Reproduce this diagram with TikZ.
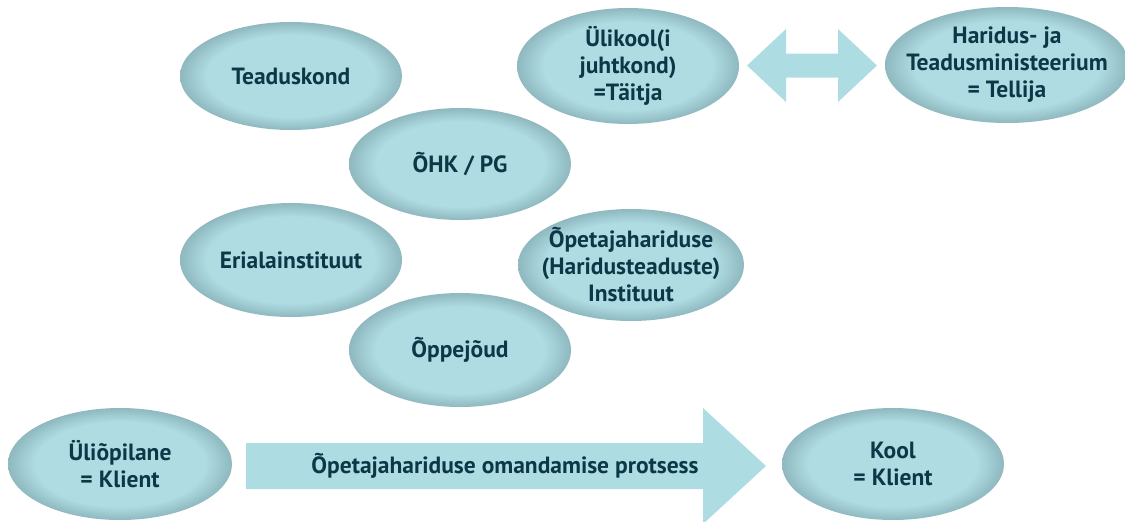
\documentclass[tikz,border=0pt]{standalone}
\usepackage{fontspec}
\setmainfont{PT Sans}
\usetikzlibrary{shapes.geometric}
\definecolor{elllight}{HTML}{AEDCE2}
\definecolor{elldark}{HTML}{8FB8BF}
\definecolor{arrowfill}{HTML}{ADDDE3}
\definecolor{txt}{HTML}{0D3747}
\pgfdeclareradialshading{bevel}{\pgfpoint{0bp}{0bp}}{color(0bp)=(elllight); color(19bp)=(elllight); color(25bp)=(elldark); color(50bp)=(elldark)}
\tikzset{
  lbl/.style={font=\fontsize{23.5}{27}\selectfont\bfseries, text=txt, inner sep=0pt, align=center},
  blob/.style={ellipse, inner sep=0pt, shading=bevel, minimum width=222pt, minimum height=112pt,
    label={[lbl]center:#1}},
  blockarrow/.style={fill=arrowfill, draw=none}
}
\begin{document}
\begin{tikzpicture}[x=1pt,y=-1pt]
\useasboundingbox (0,0) rectangle (1125,522);
\node[blob={Teaduskond}, minimum height=108pt] (tk) at (291,76) {};
\node[blob={Ülikool(i\\juhtkond)\\=Täitja}, minimum height=116pt] (ul) at (628,66) {};
\node[blob={Haridus- ja\\Teadusministeerium\\= Tellija}, minimum width=244pt, minimum height=116pt] (hm) at (1007,65) {};
\node[blob={ÕHK / PG}] (ohk) at (460,164) {};
\node[blob={Erialainstituut}, minimum height=114pt] (ei) at (291,260) {};
\node[blob={Õpetajahariduse\\(Haridusteaduste)\\Instituut}, minimum width=226pt] (oi) at (631,265) {};
\node[blob={Õppejõud}, minimum height=114pt] (oj) at (460,350) {};
\node[blob={Üliõpilane\\= Klient}, minimum width=224pt] (up) at (120,464) {};
\node[blob={Kool\\= Klient}] (ko) at (893,464) {};
% double arrow between Ülikool and ministry
\fill[blockarrow] (747,65.5) -- (786,29) -- (786,53.5) -- (838,53.5) -- (838,29) -- (877,65.5)
  -- (838,102) -- (838,77.5) -- (786,77.5) -- (786,102) -- cycle;
% process arrow
\fill[blockarrow] (246,443) -- (703,443) -- (703,408) -- (766,466) -- (703,524) -- (703,489) -- (246,489) -- cycle;
\node[lbl] (proc) at (505,466) {Õpetajahariduse omandamise protsess};
\end{tikzpicture}
\end{document}
